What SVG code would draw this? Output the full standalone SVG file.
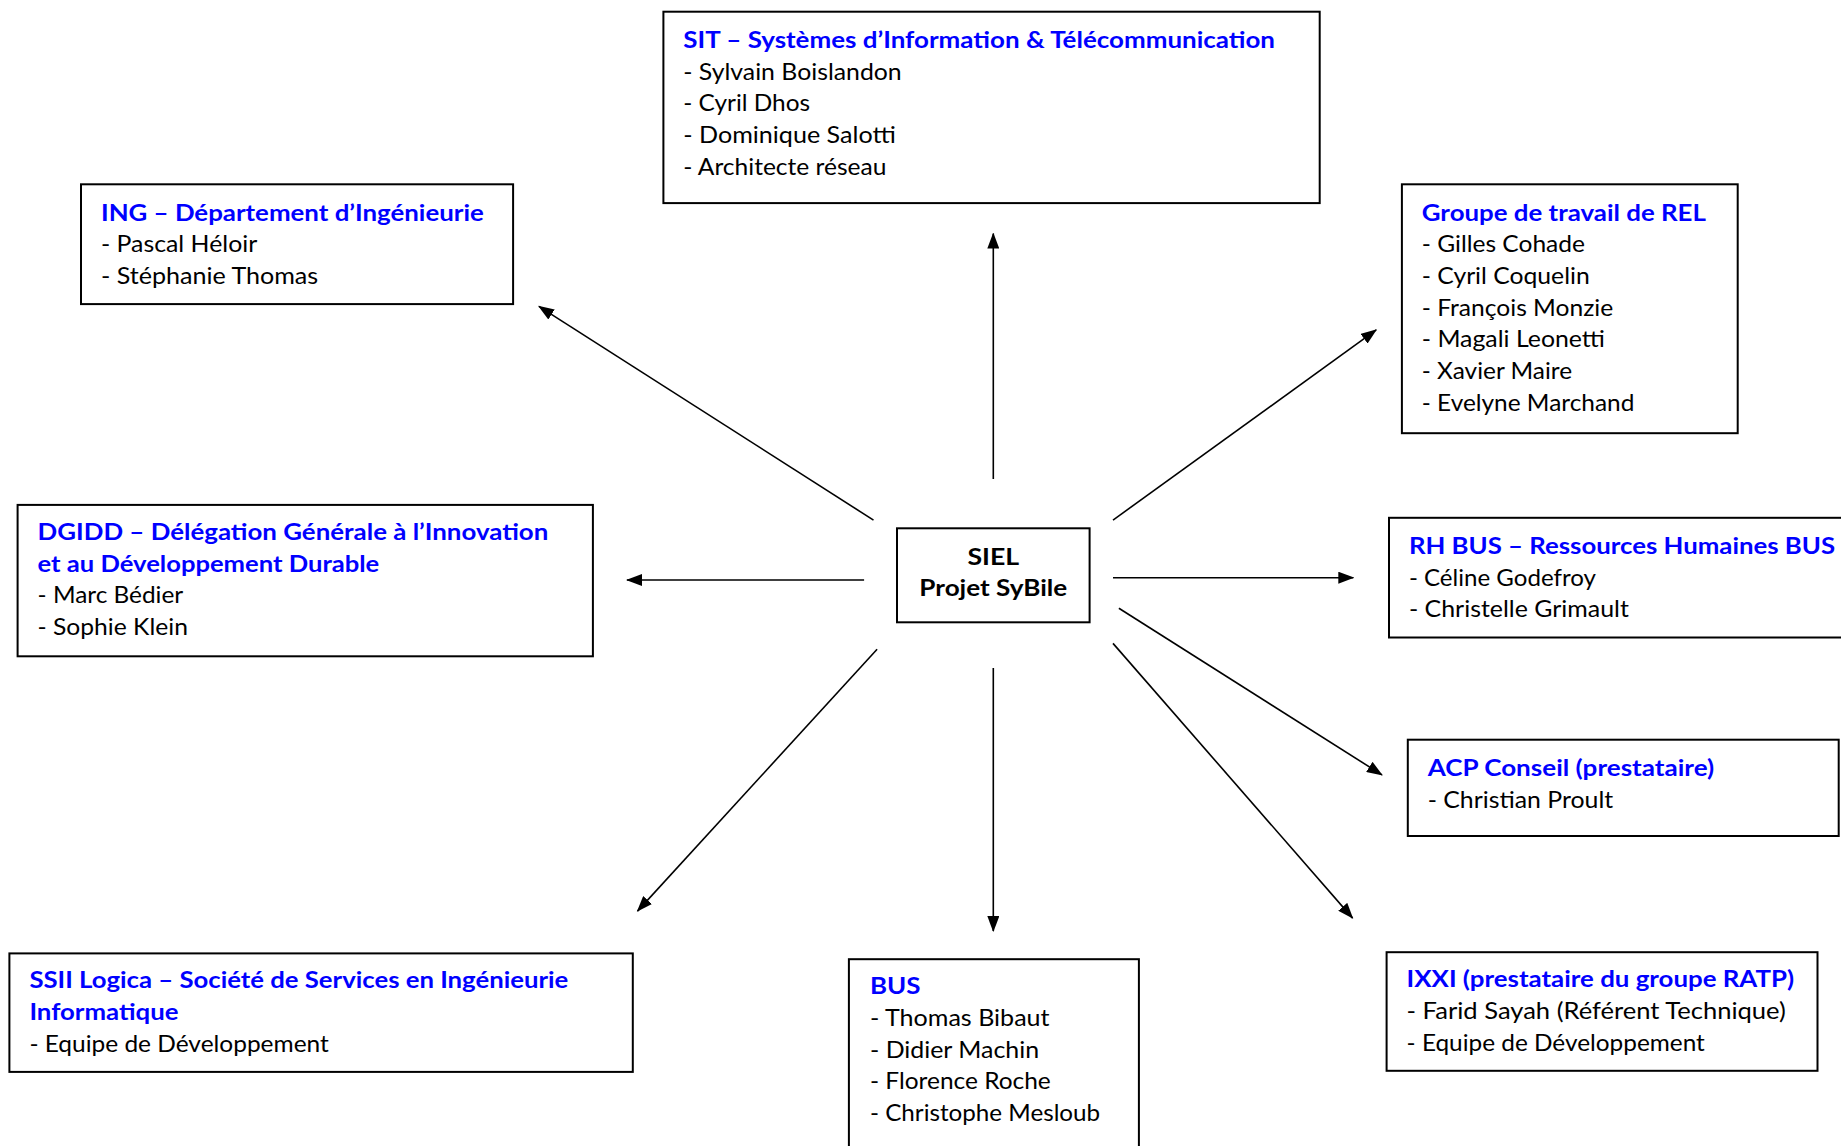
<svg xmlns="http://www.w3.org/2000/svg" width="1841" height="1146" viewBox="0 0 1841 1146">
<defs>
<style>
.box{fill:#fff;stroke:#000;stroke-width:2}
text{font-family:Lato,"Open Sans","Liberation Sans",sans-serif;font-size:23px;fill:#000}
.t{font-weight:bold;fill:#0000ff}
.c{font-weight:bold;text-anchor:middle}
.ln{stroke:#000;stroke-width:1.6;fill:none;marker-end:url(#ah)}
</style>
<marker id="ah" markerUnits="userSpaceOnUse" markerWidth="16" markerHeight="12" refX="15" refY="6" orient="auto">
<path d="M0,0 L16,6 L0,12 Z" fill="#000"/>
</marker>
</defs>
<rect width="1841" height="1146" fill="#fff"/>
<g id="connectors">
<line class="ln" x1="993.3" y1="479" x2="993.3" y2="233.6"/>
<line class="ln" x1="873.5" y1="520.1" x2="538.9" y2="306.4"/>
<line class="ln" x1="1113" y1="520.1" x2="1376.2" y2="329.9"/>
<line class="ln" x1="864.1" y1="580" x2="627" y2="580"/>
<line class="ln" x1="1113" y1="577.7" x2="1353.3" y2="577.7"/>
<line class="ln" x1="1118.9" y1="608.2" x2="1382" y2="774.9"/>
<line class="ln" x1="1113" y1="643.4" x2="1352.6" y2="918.1"/>
<line class="ln" x1="993.3" y1="668.1" x2="993.3" y2="931.1"/>
<line class="ln" x1="877.1" y1="649.3" x2="637.5" y2="911.1"/>
</g>
<g id="siel">
<rect class="box" x="897" y="528.3" width="192.6" height="94"/>
<text class="c" x="993.3" y="564.5" textLength="51.7" lengthAdjust="spacingAndGlyphs">SIEL</text>
<text class="c" x="993.3" y="595.5" textLength="147.9" lengthAdjust="spacingAndGlyphs">Projet SyBile</text>
</g>
<g id="sit">
<rect class="box" x="663.4" y="11.7" width="656.3" height="191.4"/>
<text class="t" x="683.3" y="47.9" textLength="591.7" lengthAdjust="spacingAndGlyphs">SIT – Systèmes d’Information &amp; Télécommunication</text>
<text x="683.3" y="79.6" textLength="218.4" lengthAdjust="spacingAndGlyphs">- Sylvain Boislandon</text>
<text x="683.3" y="111.3" textLength="126.8" lengthAdjust="spacingAndGlyphs">- Cyril Dhos</text>
<text x="683.3" y="143" textLength="212.5" lengthAdjust="spacingAndGlyphs">- Dominique Salotti</text>
<text x="683.3" y="174.7" textLength="203.1" lengthAdjust="spacingAndGlyphs">- Architecte réseau</text>
</g>
<g id="ing">
<rect class="box" x="81" y="184.3" width="432.1" height="119.8"/>
<text class="t" x="101" y="220.5" textLength="382.8" lengthAdjust="spacingAndGlyphs">ING – Département d’Ingénieurie</text>
<text x="101" y="252.2" textLength="156.2" lengthAdjust="spacingAndGlyphs">- Pascal Héloir</text>
<text x="101" y="283.9" textLength="217.2" lengthAdjust="spacingAndGlyphs">- Stéphanie Thomas</text>
</g>
<g id="rel">
<rect class="box" x="1401.9" y="184.3" width="335.8" height="248.9"/>
<text class="t" x="1421.8" y="220.5" textLength="284.1" lengthAdjust="spacingAndGlyphs">Groupe de travail de REL</text>
<text x="1421.8" y="252.2" textLength="163.2" lengthAdjust="spacingAndGlyphs">- Gilles Cohade</text>
<text x="1421.8" y="283.9" textLength="167.9" lengthAdjust="spacingAndGlyphs">- Cyril Coquelin</text>
<text x="1421.8" y="315.6" textLength="191.4" lengthAdjust="spacingAndGlyphs">- François Monzie</text>
<text x="1421.8" y="347.3" textLength="183.2" lengthAdjust="spacingAndGlyphs">- Magali Leonetti</text>
<text x="1421.8" y="379" textLength="150.3" lengthAdjust="spacingAndGlyphs">- Xavier Maire</text>
<text x="1421.8" y="410.7" textLength="212.5" lengthAdjust="spacingAndGlyphs">- Evelyne Marchand</text>
</g>
<g id="dgidd">
<rect class="box" x="17.6" y="504.9" width="575.3" height="151.4"/>
<text class="t" x="37.6" y="539.9" textLength="510.7" lengthAdjust="spacingAndGlyphs">DGIDD – Délégation Générale à l’Innovation</text>
<text class="t" x="37.6" y="571.6" textLength="341.7" lengthAdjust="spacingAndGlyphs">et au Développement Durable</text>
<text x="37.6" y="603.3" textLength="145.6" lengthAdjust="spacingAndGlyphs">- Marc Bédier</text>
<text x="37.6" y="635" textLength="150.3" lengthAdjust="spacingAndGlyphs">- Sophie Klein</text>
</g>
<g id="rhbus">
<rect class="box" x="1389" y="517.8" width="460" height="119.7"/>
<text class="t" x="1408.9" y="554" textLength="426.2" lengthAdjust="spacingAndGlyphs">RH BUS – Ressources Humaines BUS</text>
<text x="1408.9" y="585.7" textLength="187" lengthAdjust="spacingAndGlyphs">- Céline Godefroy</text>
<text x="1408.9" y="617.4" textLength="220" lengthAdjust="spacingAndGlyphs">- Christelle Grimault</text>
</g>
<g id="acp">
<rect class="box" x="1407.8" y="739.7" width="430.9" height="96.3"/>
<text class="t" x="1427.7" y="775.9" textLength="286.5" lengthAdjust="spacingAndGlyphs">ACP Conseil (prestataire)</text>
<text x="1427.7" y="807.6" textLength="185.5" lengthAdjust="spacingAndGlyphs">- Christian Proult</text>
</g>
<g id="ssii">
<rect class="box" x="9.4" y="953.4" width="623.4" height="118.5"/>
<text class="t" x="29.4" y="988.4" textLength="538.9" lengthAdjust="spacingAndGlyphs">SSII Logica – Société de Services en Ingénieurie</text>
<text class="t" x="29.4" y="1020.1" textLength="149.1" lengthAdjust="spacingAndGlyphs">Informatique</text>
<text x="29.4" y="1051.8" textLength="299.4" lengthAdjust="spacingAndGlyphs">- Equipe de Développement</text>
</g>
<g id="bus">
<rect class="box" x="848.9" y="959.2" width="290" height="200"/>
<text class="t" x="870" y="994.3" textLength="50.5" lengthAdjust="spacingAndGlyphs">BUS</text>
<text x="870" y="1026" textLength="179.6" lengthAdjust="spacingAndGlyphs">- Thomas Bibaut</text>
<text x="870" y="1057.7" textLength="169.1" lengthAdjust="spacingAndGlyphs">- Didier Machin</text>
<text x="870" y="1089.4" textLength="180.8" lengthAdjust="spacingAndGlyphs">- Florence Roche</text>
<text x="870" y="1121.1" textLength="230.1" lengthAdjust="spacingAndGlyphs">- Christophe Mesloub</text>
</g>
<g id="ixxi">
<rect class="box" x="1386.6" y="952.2" width="430.9" height="118.6"/>
<text class="t" x="1406.6" y="986.5" textLength="387.5" lengthAdjust="spacingAndGlyphs">IXXI (prestataire du groupe RATP)</text>
<text x="1406.6" y="1018.9" textLength="379.2" lengthAdjust="spacingAndGlyphs">- Farid Sayah (Référent Technique)</text>
<text x="1406.6" y="1050.6" textLength="298.2" lengthAdjust="spacingAndGlyphs">- Equipe de Développement</text>
</g>
</svg>
